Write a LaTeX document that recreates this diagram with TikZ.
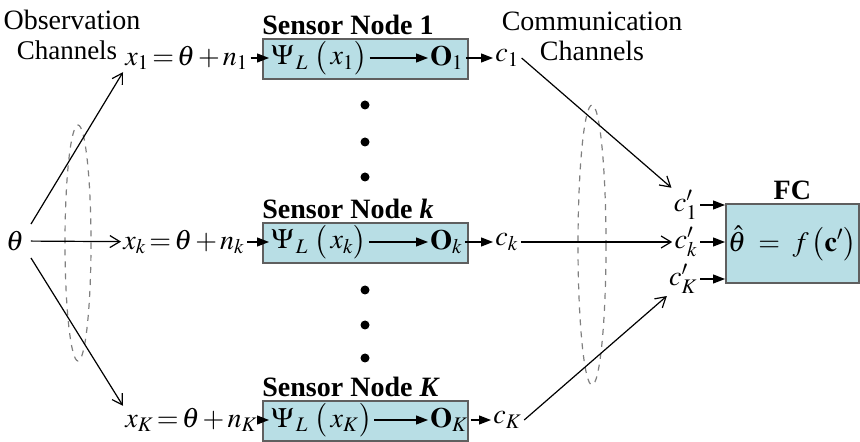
\documentclass[tikz,border=0pt]{standalone}
\usepackage{mathptmx}
\usepackage{fontspec}
\setmainfont{Liberation Serif}
\usepackage{tikz}
\usetikzlibrary{positioning}
\usetikzlibrary{arrows.meta}
\definecolor{boxblue}{RGB}{184,222,229}
\definecolor{boxline}{RGB}{95,95,95}
\tikzset {
  % blue processing boxes
  sensorbox/.style={draw=boxline, fill=boxblue, thick, anchor=north west, inner sep=0pt,
    minimum width=102.5pt, minimum height=20pt},
  % channel arrows (open head) and feeding arrows (filled head)
  chan/.style={-{Straight Barb[length=5pt, width=6pt]}, semithick},
  feed/.style={-{Triangle[length=6pt, width=4.5pt]}, semithick},
  title/.style={font=\fontsize{14}{15}\selectfont\bfseries, anchor=south west, inner sep=0pt, yshift=1.5pt},
  term/.style={anchor=west, inner sep=1pt},
  dot/.style={circle, fill, inner sep=0pt, minimum size=4.5pt},
  region/.style={dashed, draw=gray, semithick},
}
\newcommand{\obsv}[1]{$x_{#1}\,{=}\,\theta\,{+}\,n_{#1}$}
\newcommand{\quant}[1]{$\Psi_{\,L}\;\bigl(\,x_{#1}\bigr)$}
\begin{document}
\begin{tikzpicture}[x=0.5pt, y=-0.5pt, font=\fontsize{14}{15}\selectfont]
  \useasboundingbox (0,0) rectangle (860,442);

  \node (obs) at (72,20) {Observation};
  \node[font=\fontsize{13.5}{15}\selectfont] (obs2) at (67,50) {Channels};
  \node[align=center] (com) at (592,36) {Communication\\Channels};

  \node (th) at (15,241) {$\theta$};

  % observations
  \node[term] (x1) at (123,58) {\obsv{1}};
  \node[term] (xk) at (121,242) {\obsv{k}};
  \node[term] (xK) at (123,420) {\obsv{K}};

  % sensor nodes
  \node[sensorbox] (b1) at (262,38) {};
  \node[sensorbox] (bk) at (262,222) {};
  \node[sensorbox] (bK) at (262,400) {};

  \node[title] (t1) at (b1.north west) {Sensor Node 1};
  \node[title] (tk) at (bk.north west) {Sensor Node \textbf{\itshape k}};
  \node[title] (tK) at (bK.north west) {Sensor Node \textbf{\itshape K}};

  \node[term] (p1) at (269,58) {\quant{1}};
  \node[term] (pk) at (269,242) {\quant{k}};
  \node[term] (pK) at (269,420) {\quant{K}};

  \node[term] (o1) at (428,58) {$\mathbf{O}_1$};
  \node[term] (ok) at (428,242) {$\mathbf{O}_k$};
  \node[term] (oK) at (428,420) {$\mathbf{O}_K$};

  \node[term] (c1) at (493,58) {$c_1$};
  \node[term] (ck) at (493,242) {$c_k$};
  \node[term] (cK) at (491,420) {$c_K$};

  \foreach \n in {1,k,K} {
    \draw[feed] (x\n) -- (p\n);
    \draw[feed] (p\n) -- (o\n);
    \draw[feed] (o\n) -- (c\n);
  }

  \foreach \y in {105,142,177,290,325,358}
    \node[dot] (d\y) at (365,\y) {};

  % fusion center
  \node[sensorbox, minimum width=66.5pt, minimum height=39.5pt] (fc) at (725,203)
    {$\hat{\theta}\;=\;f\,\bigl(\mathbf{c}'\bigr)$};
  \node[title, anchor=south] (fct) at (fc.north) {FC};

  \node[anchor=east, inner sep=1pt] (cp1) at (700,205) {$c'_1$};
  \node[anchor=east, inner sep=1pt] (cpk) at (700,242) {$c'_k$};
  \node[anchor=east, inner sep=1pt] (cpK) at (700,279) {$c'_K$};

  \foreach \n in {1,k,K}
    \draw[feed] (cp\n.east) -- (cp\n.east -| fc.west);

  % channels
  \draw[region] (78,243) ellipse [x radius=13, y radius=118];
  \draw[region] (592,245) ellipse [x radius=14, y radius=140];

  \draw[chan] (th.north east) -- (x1.south west);
  \draw[chan] (th) -- (xk);
  \draw[chan] (th.south east) -- (xK.north west);

  \draw[chan] (c1.east) -- (cp1.north west);
  \draw[chan] (ck) -- (cpk);
  \draw[chan] (cK.east) -- (cpK.south west);
\end{tikzpicture}
\end{document}
